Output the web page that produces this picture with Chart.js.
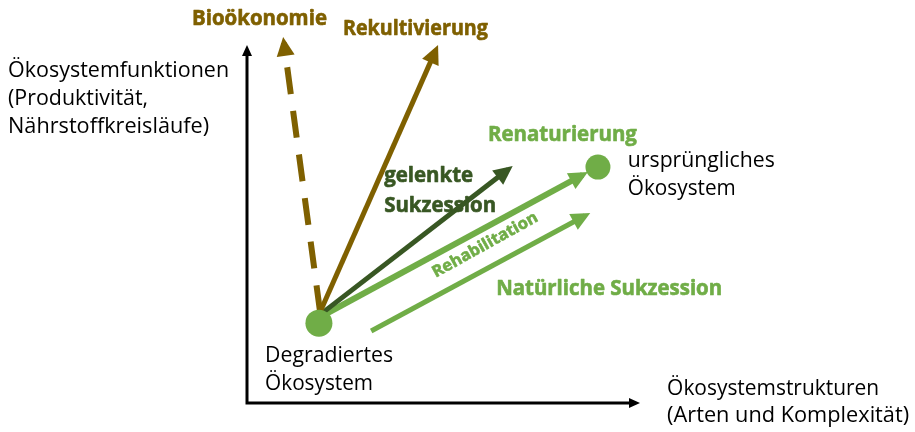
<!DOCTYPE html>
<html lang="de">
<head>
<meta charset="utf-8">
<title>Ökosystem-Entwicklungspfade</title>
<script src="https://cdn.jsdelivr.net/npm/chart.js@4"></script>
<style>
  html, body { margin: 0; padding: 0; background: #ffffff; }
  canvas { display: block; }
</style>
</head>
<body>
<canvas id="pathChart" width="915" height="432"></canvas>
<script>
// Pfade (Pfeile): Start und Ende in Achseneinheiten (0-100)
var pathNames = ['Bioökonomie', 'Rekultivierung', 'gelenkte Sukzession', 'Renaturierung', 'Natürliche Sukzession'];
var pathStartX = [18.6, 18.6, 19.1, 19.1, 31.6];
var pathStartY = [25.4, 25.4, 25.1, 24.3, 20.1];
var pathEndX = [9.4, 48.0, 66.4, 85.4, 86.0];
var pathEndY = [100.6, 98.5, 65.2, 63.7, 52.3];

// Zustände (Punkte)
var stateNames = ['Degradiertes Ökosystem', 'ursprüngliches Ökosystem'];
var stateX = [18.3, 89.3];
var stateY = [22.3, 65.9];

// Achsentitel
var yAxisTitle = ['Ökosystemfunktionen', '(Produktivität,', 'Nährstoffkreisläufe)'];
var xAxisTitle = ['Ökosystemstrukturen', '(Arten und Komplexität)'];

var BROWN = '#7F6000';
var DARK = '#385723';
var LIGHT = '#70AD47';

var pathStyles = [
    {color: BROWN, width: 6, dash: [27, 17]},
    {color: BROWN, width: 5, dash: []},
    {color: DARK, width: 5, dash: []},
    {color: LIGHT, width: 6, dash: []},
    {color: LIGHT, width: 5, dash: []}
];

var FONT = "'Open Sans', 'Noto Sans', sans-serif";

// Beschriftungen: Anker in Achseneinheiten, Zielbreite in px
var labels = [
    {text: pathNames[0], x: -14.0, y: 105.6, bold: true, size: 21, color: BROWN, w: 135},
    {text: pathNames[1], x: 24.4, y: 102.8, bold: true, size: 21, color: BROWN, w: 145},
    {text: 'gelenkte', x: 34.9, y: 61.7, bold: true, size: 21, color: DARK, w: 89},
    {text: 'Sukzession', x: 34.9, y: 53.4, bold: true, size: 21, color: DARK, w: 112},
    {text: pathNames[3], x: 61.3, y: 73.2, bold: true, size: 21, color: LIGHT, w: 149},
    {text: pathNames[4], x: 63.4, y: 30.2, bold: true, size: 21, color: LIGHT, w: 226},
    {text: 'Rehabilitation', x: 60.6, y: 44.1, bold: true, size: 16, color: LIGHT, w: 118, rot: -29, center: true},
    {text: yAxisTitle[0], x: -60.8, y: 91.1, size: 21, color: '#000', w: 221},
    {text: yAxisTitle[1], x: -60.8, y: 83.2, size: 21, color: '#000', w: 140},
    {text: yAxisTitle[2], x: -60.8, y: 75.4, size: 21, color: '#000', w: 201},
    {text: 'Degradiertes', x: 4.6, y: 11.5, size: 21, color: '#000', w: 128},
    {text: 'Ökosystem', x: 4.6, y: 3.6, size: 21, color: '#000', w: 108},
    {text: 'ursprüngliches', x: 96.9, y: 65.9, size: 21, color: '#000', w: 147},
    {text: 'Ökosystem', x: 96.9, y: 58.1, size: 21, color: '#000', w: 108},
    {text: xAxisTitle[0], x: 106.9, y: 2.2, size: 21, color: '#000', w: 212},
    {text: xAxisTitle[1], x: 106.9, y: -5.3, size: 21, color: '#000', w: 242}
];

var drawHead = function(ctx, tipX, tipY, ux, uy, len, half) {
    var bx = tipX - ux * len;
    var by = tipY - uy * len;
    ctx.beginPath();
    ctx.moveTo(tipX, tipY);
    ctx.lineTo(bx - uy * half, by + ux * half);
    ctx.lineTo(bx + uy * half, by - ux * half);
    ctx.closePath();
    ctx.fill();
};

/**
 * Achsen mit Pfeilspitzen.
 */
var axesPlugin = {
    id: 'axesPlugin',
    beforeDatasetsDraw: function(chart) {
        var ctx = chart.ctx;
        var a = chart.chartArea;
        ctx.save();
        ctx.strokeStyle = '#000';
        ctx.fillStyle = '#000';
        ctx.lineWidth = 3;
        ctx.beginPath();
        ctx.moveTo(a.left, a.top + 8);
        ctx.lineTo(a.left, a.bottom);
        ctx.lineTo(a.right - 8, a.bottom);
        ctx.stroke();
        drawHead(ctx, a.left, a.top, 0, -1, 11, 5);
        drawHead(ctx, a.right, a.bottom, 1, 0, 11, 5);
        ctx.restore();
    }
};

/**
 * Pfeilspitzen an den Pfadenden.
 */
var arrowPlugin = {
    id: 'arrowPlugin',
    afterDatasetsDraw: function(chart) {
        var ctx = chart.ctx;
        ctx.save();
        chart.data.datasets.forEach(function(ds, i) {
            if (!ds.arrow) {
                return;
            }
            var pts = chart.getDatasetMeta(i).data;
            var p0 = pts[0];
            var p1 = pts[1];
            var dx = p1.x - p0.x;
            var dy = p1.y - p0.y;
            var len = Math.hypot(dx, dy);
            var ux = dx / len;
            var uy = dy / len;
            ctx.fillStyle = ds.borderColor;
            drawHead(ctx, p1.x + ux * 6, p1.y + uy * 6, ux, uy, 19, 9);
        });
        ctx.restore();
    }
};

/**
 * Textbeschriftungen.
 */
var labelPlugin = {
    id: 'labelPlugin',
    afterDraw: function(chart) {
        var ctx = chart.ctx;
        var xs = chart.scales.x;
        var ys = chart.scales.y;
        labels.forEach(function(l) {
            ctx.save();
            ctx.font = (l.bold ? 'bold ' : '') + l.size + 'px ' + FONT;
            ctx.fillStyle = l.color;
            ctx.strokeStyle = l.color;
            ctx.lineWidth = 0.6;
            ctx.lineJoin = 'round';
            ctx.textBaseline = l.center ? 'middle' : 'alphabetic';
            ctx.textAlign = l.center ? 'center' : 'left';
            var sx = l.w / ctx.measureText(l.text).width;
            ctx.translate(xs.getPixelForValue(l.x), ys.getPixelForValue(l.y));
            if (l.rot) {
                ctx.rotate(l.rot * Math.PI / 180);
            }
            ctx.scale(sx, 1);
            ctx.fillText(l.text, 0, 0);
            if (l.bold) {
                // etwas kräftiger, wie die Vorlage
                ctx.strokeText(l.text, 0, 0);
            }
            ctx.restore();
        });
    }
};

var datasets = [];

datasets.push({
    label: 'Zustände',
    data: stateX.map(function(x, i) {
        return {x: x, y: stateY[i]};
    }),
    backgroundColor: LIGHT,
    borderColor: LIGHT,
    pointRadius: [13.5, 12.5],
    pointBorderWidth: 0,
    showLine: false,
    clip: false,
    order: 0
});

pathNames.forEach(function(name, i) {
    datasets.push({
        label: name,
        arrow: true,
        data: [
            {x: pathStartX[i], y: pathStartY[i]},
            {x: pathEndX[i], y: pathEndY[i]}
        ],
        type: 'line',
        borderColor: pathStyles[i].color,
        backgroundColor: pathStyles[i].color,
        borderWidth: pathStyles[i].width,
        borderDash: pathStyles[i].dash,
        borderCapStyle: 'butt',
        pointRadius: 0,
        fill: false,
        tension: 0,
        clip: false,
        order: 1
    });
});

new Chart(document.getElementById('pathChart'), {
    type: 'scatter',
    data: {datasets: datasets},
    options: {
        responsive: false,
        animation: false,
        layout: {
            padding: {left: 247, right: 275, top: 45, bottom: 29}
        },
        scales: {
            x: {type: 'linear', min: 0, max: 100, display: false},
            y: {type: 'linear', min: 0, max: 100, display: false}
        },
        plugins: {
            legend: {display: false},
            tooltip: {enabled: false}
        }
    },
    plugins: [axesPlugin, arrowPlugin, labelPlugin]
});
</script>
</body>
</html>
